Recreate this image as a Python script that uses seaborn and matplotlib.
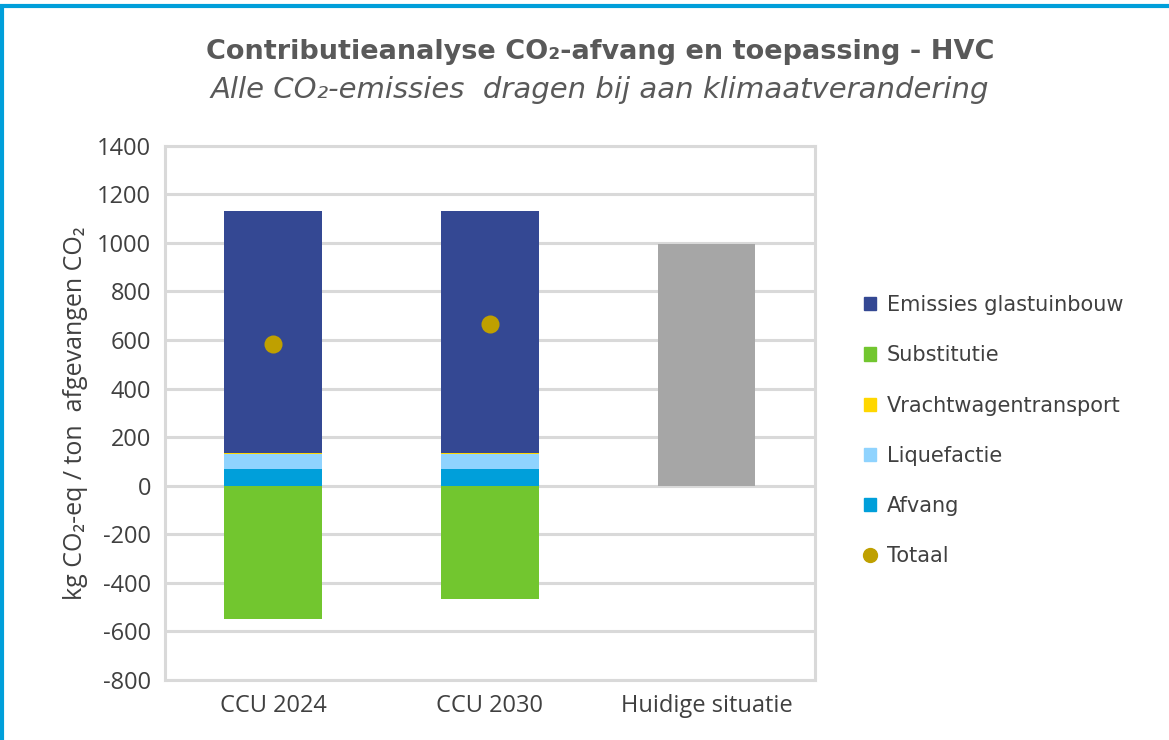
import pandas as pd
import matplotlib.pyplot as plt
import matplotlib.patches as mpatches
from matplotlib.lines import Line2D
import seaborn as sns

categories = ['CCU 2024', 'CCU 2030', 'Huidige situatie']
afvang = [71, 71, 0]
liquefactie = [60, 60, 0]
vrachtwagentransport = [2, 2, 0]
emissies_glastuinbouw = [999, 999, 0]
substitutie = [-547, -465, 0]
huidige_situatie = [0, 0, 996]
totaal_categories = ['CCU 2024', 'CCU 2030']
totaal = [585, 667]

COLORS = {
    'Emissies glastuinbouw': '#344893',
    'Substitutie': '#72C62F',
    'Vrachtwagentransport': '#FFD700',
    'Liquefactie': '#8FD3FE',
    'Afvang': '#009FDA',
    'Totaal': '#BFA000',
}
GRID = '#D9D9D9'
TEXT = '#404040'

sns.set_style('white')
plt.rcParams['font.family'] = ['DejaVu Sans']
plt.rcParams['axes.unicode_minus'] = False

df = pd.DataFrame({'categorie': categories})
# cumulative stacks, drawn tallest first so the smaller ones sit on top
df['s_afvang'] = afvang
df['s_liq'] = df['s_afvang'] + liquefactie
df['s_vracht'] = df['s_liq'] + vrachtwagentransport
df['s_emis'] = df['s_vracht'] + emissies_glastuinbouw
df['substitutie'] = substitutie
df['huidig'] = huidige_situatie

fig = plt.figure(figsize=(11.69, 7.40), dpi=100)
ax = fig.add_axes([0.141, 0.081, 0.556, 0.722])

width = 0.45
for col, color in [('s_emis', COLORS['Emissies glastuinbouw']),
                   ('s_vracht', COLORS['Vrachtwagentransport']),
                   ('s_liq', COLORS['Liquefactie']),
                   ('s_afvang', COLORS['Afvang']),
                   ('substitutie', COLORS['Substitutie']),
                   ('huidig', '#A6A6A6')]:
    sns.barplot(data=df, x='categorie', y=col, order=categories, color=color,
                width=width, saturation=1, ax=ax, zorder=3, linewidth=0)

sns.stripplot(x=totaal_categories, y=totaal, order=categories, jitter=False,
              color=COLORS['Totaal'], size=13, ax=ax, zorder=5, linewidth=0)

ax.set_ylim(-800, 1400)
ax.set_xlim(-0.5, 2.5)
ax.set_yticks(range(-800, 1401, 200))
ax.yaxis.grid(True, color=GRID, linewidth=2.2, zorder=0)
ax.set_axisbelow(True)
for s in ax.spines.values():
    s.set_visible(True)
    s.set_color(GRID)
    s.set_linewidth(2.2)
ax.tick_params(axis='both', length=0, labelsize=17, colors=TEXT, pad=10)
for lab in ax.get_yticklabels() + ax.get_xticklabels():
    lab.set_fontfamily(['Open Sans', 'DejaVu Sans'])
ax.set_xlabel('')
ax.set_ylabel('kg CO₂-eq / ton  afgevangen CO₂', fontsize=18, color=TEXT,
              family=['Open Sans', 'DejaVu Sans'], labelpad=6)

fig.text(0.513, 0.93, 'Contributieanalyse CO₂-afvang en toepassing - HVC',
         ha='center', va='center', fontsize=19.5, color='#595959', fontweight='semibold')
fig.text(0.513, 0.878, 'Alle CO₂-emissies  dragen bij aan klimaatverandering',
         ha='center', va='center', fontsize=21, color='#595959', style='italic')

legend_order = ['Emissies glastuinbouw', 'Substitutie', 'Vrachtwagentransport',
                'Liquefactie', 'Afvang']
handles = [mpatches.Patch(color=COLORS[k], label=k) for k in legend_order]
handles.append(Line2D([], [], marker='o', linestyle='', markersize=10,
                      color=COLORS['Totaal'], label='Totaal'))
leg = fig.legend(handles=handles, loc='center left', bbox_to_anchor=(0.723, 0.418),
                 frameon=False, fontsize=15, labelspacing=1.45, handlelength=0.6,
                 handleheight=0.6, handletextpad=0.5)
for t in leg.get_texts():
    t.set_color(TEXT)

# blue frame along top and left of the picture
fig.add_artist(Line2D([0, 1], [0.992, 0.992], transform=fig.transFigure,
                      color='#009FDA', linewidth=3))
fig.add_artist(Line2D([0.002, 0.002], [0, 0.992], transform=fig.transFigure,
                      color='#009FDA', linewidth=3))

fig.savefig('out.png', dpi=100)
